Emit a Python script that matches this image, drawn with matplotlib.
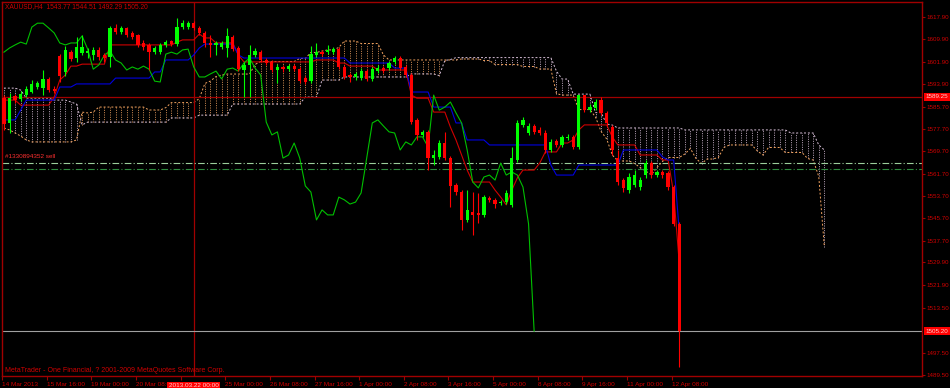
import matplotlib
matplotlib.use("Agg")
import matplotlib.pyplot as plt

# ---------------- data (XAUUSD H4, Ichimoku) ----------------
symbol_title = "XAUUSD,H4  1543.77 1544.51 1492.29 1505.20"

opens = [1588.8, 1579.9, 1589.6, 1588.5, 1589.9, 1591.0, 1592.8, 1592.4, 1595.7, 1592.1,
         1603.9, 1598.2, 1605.3, 1603.2, 1605.0, 1605.0, 1604.3, 1606.1, 1604.3, 1603.6,
         1614.0, 1612.5, 1614.0, 1612.2, 1611.4, 1608.6, 1607.9, 1605.3, 1605.3, 1607.9,
         1609.3, 1608.2, 1614.3, 1614.3, 1615.7, 1614.0, 1612.2, 1608.6, 1607.9, 1607.1,
         1606.8, 1610.7, 1606.8, 1598.9, 1600.7, 1604.3, 1605.3, 1602.5, 1601.8, 1598.9,
         1600.0, 1599.2, 1600.3, 1599.2, 1596.0, 1594.9, 1604.3, 1605.3, 1605.3, 1605.3,
         1606.4, 1600.0, 1597.1, 1596.4, 1596.0, 1598.5, 1595.7, 1598.5, 1599.6, 1599.6,
         1601.8, 1603.2, 1600.0, 1597.1, 1581.0, 1575.6, 1576.7, 1567.3, 1567.7, 1572.7,
         1567.3, 1557.6, 1555.1, 1545.1, 1548.0, 1547.6, 1546.9, 1553.0, 1552.3, 1551.2,
         1551.5, 1550.5, 1566.6, 1579.2, 1576.3, 1578.8, 1577.4, 1576.3, 1570.2, 1573.4,
         1572.0, 1574.5, 1574.9, 1571.3, 1589.9, 1584.5, 1585.3, 1588.1, 1583.5, 1578.4,
         1567.3, 1559.4, 1555.8, 1557.6, 1556.9, 1561.2, 1565.5, 1561.2, 1562.3, 1561.9,
         1556.9, 1543.77]
highs = [1589.9, 1590.6, 1590.3, 1591.4, 1593.2, 1595.3, 1594.9, 1598.9, 1596.4, 1593.2,
         1604.6, 1607.5, 1606.1, 1610.7, 1611.4, 1606.8, 1607.1, 1607.1, 1605.0, 1614.7,
         1615.4, 1614.7, 1614.3, 1612.9, 1611.8, 1609.7, 1608.6, 1607.5, 1608.6, 1609.7,
         1609.7, 1617.5, 1616.8, 1616.5, 1616.5, 1614.7, 1612.9, 1611.4, 1609.3, 1609.3,
         1614.0, 1611.4, 1607.5, 1601.8, 1607.9, 1606.8, 1606.1, 1603.2, 1602.5, 1601.0,
         1600.7, 1601.0, 1601.0, 1600.0, 1596.7, 1607.5, 1608.6, 1606.1, 1607.9, 1607.1,
         1607.1, 1600.7, 1597.8, 1598.2, 1599.6, 1599.2, 1600.0, 1600.7, 1600.3, 1602.1,
         1603.9, 1603.9, 1600.7, 1597.8, 1581.7, 1577.4, 1577.4, 1570.2, 1573.8, 1576.7,
         1568.0, 1558.4, 1555.8, 1555.8, 1555.1, 1554.8, 1554.1, 1553.7, 1553.0, 1552.3,
         1555.8, 1571.3, 1581.0, 1582.0, 1579.9, 1579.5, 1578.4, 1577.4, 1574.1, 1574.1,
         1575.6, 1575.9, 1575.6, 1589.9, 1589.9, 1586.7, 1588.5, 1589.2, 1584.2, 1579.2,
         1570.2, 1560.2, 1561.9, 1563.0, 1560.5, 1566.6, 1566.2, 1563.0, 1563.0, 1562.7,
         1557.6, 1544.51]
lows = [1577.4, 1576.3, 1587.1, 1587.8, 1589.2, 1590.6, 1592.1, 1589.9, 1591.0, 1590.6,
        1594.6, 1596.7, 1602.1, 1601.8, 1604.3, 1603.2, 1602.5, 1602.5, 1601.8, 1600.0,
        1611.8, 1611.8, 1610.7, 1610.0, 1607.1, 1606.1, 1598.9, 1604.6, 1604.6, 1607.1,
        1607.5, 1607.5, 1613.6, 1613.6, 1613.2, 1611.4, 1607.1, 1603.6, 1604.3, 1606.4,
        1603.6, 1605.7, 1598.5, 1589.2, 1589.2, 1603.6, 1601.8, 1600.7, 1598.2, 1594.2,
        1598.2, 1598.5, 1598.5, 1594.2, 1593.9, 1594.2, 1603.6, 1603.9, 1604.6, 1604.6,
        1599.2, 1595.7, 1594.6, 1595.3, 1595.3, 1594.9, 1594.9, 1597.8, 1597.8, 1598.9,
        1601.0, 1598.9, 1596.4, 1579.5, 1573.8, 1574.9, 1563.0, 1564.8, 1567.0, 1566.6,
        1549.7, 1554.1, 1541.5, 1544.4, 1539.7, 1544.0, 1546.2, 1551.5, 1549.4, 1550.5,
        1550.8, 1549.7, 1565.9, 1578.4, 1575.6, 1575.9, 1575.6, 1569.1, 1569.5, 1571.3,
        1571.3, 1573.8, 1570.6, 1570.6, 1583.8, 1583.8, 1584.5, 1582.7, 1578.8, 1568.4,
        1557.6, 1555.1, 1554.8, 1556.9, 1555.8, 1560.2, 1560.2, 1560.5, 1560.2, 1555.8,
        1542.9, 1492.29]
closes = [1579.5, 1588.8, 1588.1, 1590.3, 1592.1, 1593.9, 1594.2, 1595.7, 1591.7, 1591.4,
          1596.7, 1606.1, 1602.8, 1607.1, 1607.1, 1605.7, 1606.1, 1603.6, 1603.2, 1614.0,
          1612.5, 1614.0, 1611.4, 1610.7, 1607.9, 1607.1, 1605.3, 1606.8, 1607.9, 1608.9,
          1608.2, 1614.3, 1615.7, 1615.7, 1614.0, 1612.2, 1608.6, 1607.9, 1608.6, 1608.6,
          1611.1, 1606.4, 1599.2, 1600.7, 1604.3, 1605.7, 1602.5, 1601.4, 1598.9, 1600.0,
          1599.2, 1600.3, 1599.2, 1594.9, 1594.6, 1604.6, 1605.3, 1604.6, 1606.1, 1606.4,
          1600.0, 1596.4, 1596.4, 1597.5, 1598.5, 1595.7, 1599.2, 1599.6, 1598.5, 1601.4,
          1603.2, 1599.6, 1597.1, 1580.2, 1575.6, 1576.7, 1567.3, 1568.4, 1572.7, 1567.3,
          1557.3, 1555.1, 1545.1, 1548.7, 1546.9, 1546.9, 1553.3, 1552.3, 1550.8, 1551.5,
          1554.8, 1567.3, 1579.9, 1581.0, 1578.8, 1576.7, 1576.3, 1570.2, 1573.1, 1572.0,
          1574.9, 1574.9, 1571.3, 1589.9, 1584.5, 1585.6, 1587.4, 1583.5, 1579.9, 1570.2,
          1558.7, 1556.6, 1560.5, 1561.2, 1559.4, 1565.5, 1561.2, 1562.3, 1561.2, 1556.9,
          1543.7, 1505.20]

tenkan = ([1588.1] * 3 + [1586.3] * 6 + [1589.2, 1595.3, 1597.1] + [1600.3] * 2 + [1601.0] * 5
          + [1607.9] * 12 + [1608.9] + [1609.7] * 3 + [1611.8] + [1610.4] * 2 + [1608.6] * 4
          + [1604.3] + [1601.8] * 13 + [1602.5] * 4 + [1601.4] * 2 + [1600.3] * 5 + [1598.9] * 6
          + [1589.9] + [1588.8] * 3 + [1583.8] * 3 + [1578.4, 1573.8, 1568.4, 1563.0]
          + [1558.7] * 4 + [1555.8, 1553.3, 1550.5, 1555.8, 1560.2] + [1563.0] * 3 + [1565.5]
          + [1569.5] * 3 + [1572.7] * 2 + [1573.8, 1577.4] + [1579.2] * 5 + [1574.9]
          + [1572.0] * 4 + [1568.4] * 4 + [1566.6] * 2 + [1554.8, 1529.7])
kijun = ([1581.0] * 3 + [1584.5] + [1588.1] * 6 + [1592.8] * 3 + [1593.9] * 7 + [1596.0] * 7
         + [1598.2] * 2 + [1602.5] * 5 + [1604.3, 1606.8] + [1608.2] * 6 + [1604.3]
         + [1603.2] * 19 + [1601.4] * 8 + [1599.6] * 3 + [1591.0] * 4 + [1585.6] * 4
         + [1579.9] * 2 + [1573.8] * 4 + [1572.0] * 11 + [1564.8] + [1561.2] * 4
         + [1564.8] * 8 + [1570.2] * 7 + [1567.7, 1566.6, 1566.6, 1541.1])

span_a = ([1578.1, 1577.4, 1576.3, 1575.2, 1573.8] + [1573.1] * 8 + [1573.8]
          + [1583.8, 1583.5, 1583.8] + [1585.6] * 9
          + [1584.55] * 3 + [1585.4] + [1587.2] * 5
          + [1588.65, 1594.05, 1594.95, 1596.55, 1597.1] + [1597.45] * 5 + [1600.9]
          + [1601.95] * 7 + [1603.05] * 2 + [1605.2] * 2 + [1605.7] + [1606.1] * 2 + [1607.0]
          + [1609.3] * 3 + [1608.4] * 4 + [1604.3] + [1602.5] * 13 + [1602.85] * 4
          + [1602.3] * 2 + [1600.85] * 5 + [1600.15] * 3 + [1599.25] * 3 + [1590.45]
          + [1589.9] * 3 + [1584.7] * 3 + [1582.0, 1576.85, 1574.15, 1568.4] + [1566.25] * 3
          + [1565.35, 1563.9, 1562.65, 1561.25, 1563.9, 1566.1] + [1567.5] * 3
          + [1568.75, 1570.75, 1567.15, 1565.35] + [1566.95] * 2 + [1567.5, 1571.1]
          + [1572.0] * 5 + [1569.85, 1568.4] + [1571.1] * 3 + [1569.3] * 4
          + [1567.15, 1566.6, 1560.7, 1535.4])
span_b = ([1592.4] * 3 + [1591.7] + [1588.8] * 5 + [1588.1] * 3 + [1587.4, 1586.7]
          + [1579.2] + [1580.2] * 15 + [1581.7] * 5
          + [1582.7] * 6 + [1586.7] * 13 + [1589.2] * 3 + [1595.3] * 4 + [1596.4] * 12
          + [1597.5] * 5 + [1596.9, 1602.3, 1602.65] + [1603.35] * 18
          + [1598.5] + [1595.65] * 2 + [1590.25] * 4 + [1583.6] * 2 + [1579.5, 1579.15, 1578.1]
          + [1578.1] * 11 + [1577.4] * 19 + [1576.3] * 5 + [1572.0, 1570.2])

chikou_shift = 26
time_labels = ["14 Mar 2013", "15 Mar 16:00", "19 Mar 00:00", "20 Mar 08:00", "21 Mar 16:00",
               "25 Mar 00:00", "26 Mar 08:00", "27 Mar 16:00", "1 Apr 00:00", "2 Apr 08:00",
               "3 Apr 16:00", "5 Apr 00:00", "8 Apr 08:00", "9 Apr 16:00", "11 Apr 00:00",
               "12 Apr 08:00"]
price_ticks = [1617.90, 1609.90, 1601.90, 1593.90, 1585.70, 1577.70, 1569.70, 1561.70,
               1553.70, 1545.70, 1537.70, 1529.90, 1521.90, 1513.50, 1497.50, 1489.50]
crosshair_price = 1589.25
crosshair_bar = 34
crosshair_time = "2013.03.22 00:00"
bid_price = 1505.20
order_prices = [1565.4, 1563.3]
order_label = "#1330894352 sell"
copyright_text = "MetaTrader - One Financial, ? 2001-2009 MetaQuotes Software Corp."

# ---------------- drawing ----------------
W, H = 950, 388
FONT = "Liberation Sans"
AXC = "#a00000"
TXT = "#d00000"

fig = plt.figure(figsize=(W / 100, H / 100), dpi=100, facecolor="black")
ax = fig.add_axes([2 / W, 12 / H, 920 / W, 374 / H], facecolor="black")
ax.set_xlim(-0.23, 164.5)
ax.set_ylim(1489.1, 1623.3)

# cloud
n_span = len(span_a)
for i in range(n_span):
    a, b = span_a[i], span_b[i]
    col = "#f4a460" if a >= b else "#d8bfd8"
    ax.vlines(i, min(a, b), max(a, b), colors=col, linestyles=(0, (1.2, 1.6)), lw=0.6, zorder=1)
ax.plot(range(n_span), span_a, color="#f4a460", ls=(0, (2, 2)), lw=0.7, zorder=1.5)
ax.plot(range(n_span), span_b, color="#d8bfd8", ls=(0, (2, 2)), lw=0.7, zorder=1.5)

# helper lines
ax.axhline(crosshair_price, color=AXC, lw=0.9, zorder=2)
ax.axvline(crosshair_bar, color=AXC, lw=0.9, zorder=2)
ax.axhline(bid_price, color="#a0a0a0", lw=0.8, zorder=2)
ax.axhline(order_prices[0], color="#9ccf9c", lw=0.8, ls=(0, (6, 2, 1, 2)), zorder=2)
ax.axhline(order_prices[1], color="#2e8b3e", lw=0.8, ls=(0, (6, 2, 1, 2)), zorder=2)

# ichimoku lines
n = len(closes)
ax.plot(range(n), tenkan, color="#d00000", lw=0.8, zorder=3)
ax.plot(range(n), kijun, color="#0000e0", lw=0.8, zorder=3)
ax.plot(range(n - chikou_shift), closes[chikou_shift:], color="#00c000", lw=0.8, zorder=3)

# candles
for i in range(n):
    o, h, l, c = opens[i], highs[i], lows[i], closes[i]
    col = "#00ff00" if c >= o else "#ff0000"
    ax.vlines(i, l, h, colors=col, lw=0.8, zorder=4)
    ax.bar(i, max(abs(c - o), 0.35), bottom=min(o, c), width=0.58, color=col,
           linewidth=0, zorder=5)

# axes styling
for s in ax.spines.values():
    s.set_color(AXC)
    s.set_linewidth(1.0)
ax.yaxis.tick_right()
ax.set_yticks(price_ticks)
ax.set_yticklabels([f"{p:.2f}" for p in price_ticks], fontfamily=FONT, fontsize=4.5, color=TXT)
ax.tick_params(axis="y", direction="out", length=2, width=0.8, color=AXC, pad=1)
xt = [8 * k - 0.35 for k in range(len(time_labels))]
ax.set_xticks(xt)
ax.set_xticklabels(time_labels, fontfamily=FONT, fontsize=4.6, color=TXT, ha="left")
ax.tick_params(axis="x", direction="out", length=3, width=0.8, color=AXC, pad=1.5)
# the tick label that sits under the crosshair time box is hidden, as in the terminal
for lab, pos in zip(ax.get_xticklabels(), xt):
    if abs(pos - crosshair_bar) < 4:
        lab.set_visible(False)

# texts
fig.text(5 / W, 1 - 7 / H, symbol_title, fontfamily=FONT, fontsize=4.8, color=TXT,
         ha="left", va="center")
fig.text(5 / W, 1 - 370 / H, copyright_text, fontfamily=FONT, fontsize=5.0, color=TXT,
         ha="left", va="center")
fig.text(5 / W, 1 - 157 / H, order_label, fontfamily=FONT, fontsize=4.6, color="#ff3030",
         ha="left", va="center")

box = dict(boxstyle="square,pad=0.25", facecolor="#ff0000", edgecolor="none")
for p in (crosshair_price, bid_price):
    ax.annotate(f"{p:.2f}", xy=(1.0, p), xycoords=("axes fraction", "data"),
                xytext=(2.5, 0), textcoords="offset points", fontfamily=FONT, fontsize=4.5,
                color="#ffd0d0", ha="left", va="center", bbox=box, annotation_clip=False,
                zorder=10)
ax.annotate(crosshair_time, xy=(crosshair_bar, 0), xycoords=("data", "axes fraction"),
            xytext=(0, -7), textcoords="offset points", fontfamily=FONT, fontsize=4.6,
            color="#ffd0d0", ha="center", va="center", bbox=box, annotation_clip=False,
            zorder=10)

fig.savefig("out.png", dpi=100, facecolor="black")
